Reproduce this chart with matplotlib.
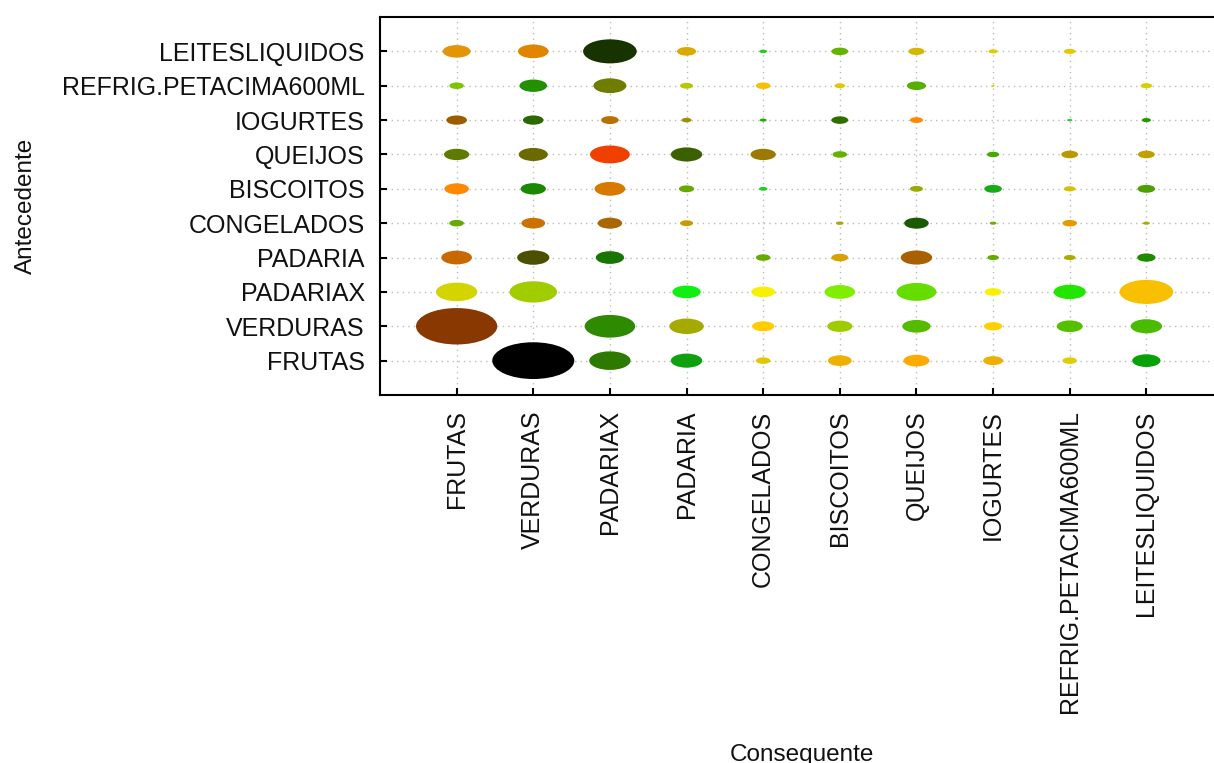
import matplotlib.pyplot as plt
from matplotlib.patches import Ellipse

plt.rcParams['font.family'] = ['Liberation Sans', 'DejaVu Sans']

# categories (same list for antecedent and consequent)
categories = ['FRUTAS', 'VERDURAS', 'PADARIAX', 'PADARIA', 'CONGELADOS',
              'BISCOITOS', 'QUEIJOS', 'IOGURTES', 'REFRIG.PETACIMA600ML',
              'LEITESLIQUIDOS']

# bubble diameter per (antecedent row, consequent column); 0 = no rule
sizes = [
    [0, 1.07, 0.54, 0.41, 0.19, 0.31, 0.34, 0.26, 0.19, 0.37],   # FRUTAS
    [1.06, 0, 0.66, 0.45, 0.29, 0.33, 0.37, 0.24, 0.34, 0.41],   # VERDURAS
    [0.54, 0.62, 0, 0.37, 0.31, 0.40, 0.52, 0.22, 0.42, 0.70],   # PADARIAX
    [0.40, 0.42, 0.37, 0, 0.19, 0.22, 0.41, 0.15, 0.15, 0.24],   # PADARIA
    [0.19, 0.31, 0.32, 0.17, 0, 0.10, 0.32, 0.09, 0.19, 0.09],   # CONGELADOS
    [0.32, 0.33, 0.40, 0.20, 0.11, 0, 0.17, 0.23, 0.15, 0.23],   # BISCOITOS
    [0.33, 0.38, 0.52, 0.41, 0.33, 0.19, 0, 0.16, 0.22, 0.22],   # QUEIJOS
    [0.27, 0.27, 0.23, 0.13, 0.09, 0.22, 0.17, 0, 0.07, 0.12],   # IOGURTES
    [0.19, 0.36, 0.43, 0.17, 0.19, 0.14, 0.25, 0.05, 0, 0.15],   # REFRIG
    [0.365, 0.40, 0.70, 0.25, 0.10, 0.22, 0.21, 0.12, 0.15, 0],  # LEITES
]

colors = [
    [None, '#000000', '#2E7A00', '#0EA00E', '#E0C800', '#F0B000', '#FFAA00', '#EEB000', '#E0CC00', '#0AA00A'],
    ['#883800', None, '#2E8A00', '#A4AA00', '#FFCC00', '#9ECC00', '#55BB00', '#FFD000', '#55C000', '#4ABB00'],
    ['#D4D400', '#A0CC00', None, '#11EE11', '#F7F000', '#80EE00', '#66DD00', '#F8F000', '#22E600', '#F8C000'],
    ['#C86800', '#4A5000', '#177500', None, '#66AA00', '#D8A000', '#A86000', '#66AA00', '#AAAA00', '#1F8A00'],
    ['#66AA00', '#CC7000', '#AA6600', '#C89A00', None, '#AAAA00', '#1A5A00', '#77AA00', '#E89800', '#AAAA00'],
    ['#FF8800', '#1A8800', '#D87800', '#66AA00', '#22CC22', None, '#99AA00', '#18AA18', '#D8C000', '#4EA000'],
    ['#5E7A00', '#6A6A00', '#F04000', '#3A6000', '#9A7A00', '#66B000', None, '#44AA00', '#B89A00', '#C2A000'],
    ['#9E5C00', '#2A6800', '#B87000', '#9A9000', '#22AA00', '#2E7000', '#FF8800', None, '#33CC33', '#229900'],
    ['#7CC400', '#229000', '#6E7C00', '#B8C800', '#F5C000', '#E2C800', '#55B000', '#E0D000', None, '#D6D000'],
    ['#E39505', '#E08500', '#163300', '#D8AA00', '#22CC22', '#66B200', '#D4B800', '#E8C800', '#E5C800', None],
]

W, H = 1214, 763
fig = plt.figure(figsize=(W / 100, H / 100), dpi=100)
# axes runs past the right edge of the picture, like the original
ax = fig.add_axes([380 / W, 1 - 395 / H, 843 / W, 378 / H])

for i, row in enumerate(sizes):
    for j, d in enumerate(row):
        if d > 0:
            ax.add_patch(Ellipse((j + 1, i + 1), d, d, facecolor=colors[i][j],
                                 edgecolor='none', zorder=3))

n = len(categories)
ax.set_xlim(0, n + 1)
ax.set_ylim(0, n + 1)
ax.set_xticks(range(1, n + 1))
ax.set_xticklabels(categories, rotation=90)
ax.set_yticks(range(1, n + 1))
ax.set_yticklabels(categories)
ax.tick_params(direction='in', length=5, width=1.5, pad=11, labelsize=18,
               labelcolor='#111111')
ax.grid(True, linestyle=(0, (1, 3)), color='#bbbbbb', linewidth=1, zorder=0)
for s in ax.spines.values():
    s.set_linewidth(1.5)

ax.set_xlabel('Consequente', fontsize=17.5, labelpad=22, color='#111111')
ax.set_ylabel('Antecedente', fontsize=17.5, labelpad=18, color='#111111')

fig.savefig('out.png', dpi=100)
